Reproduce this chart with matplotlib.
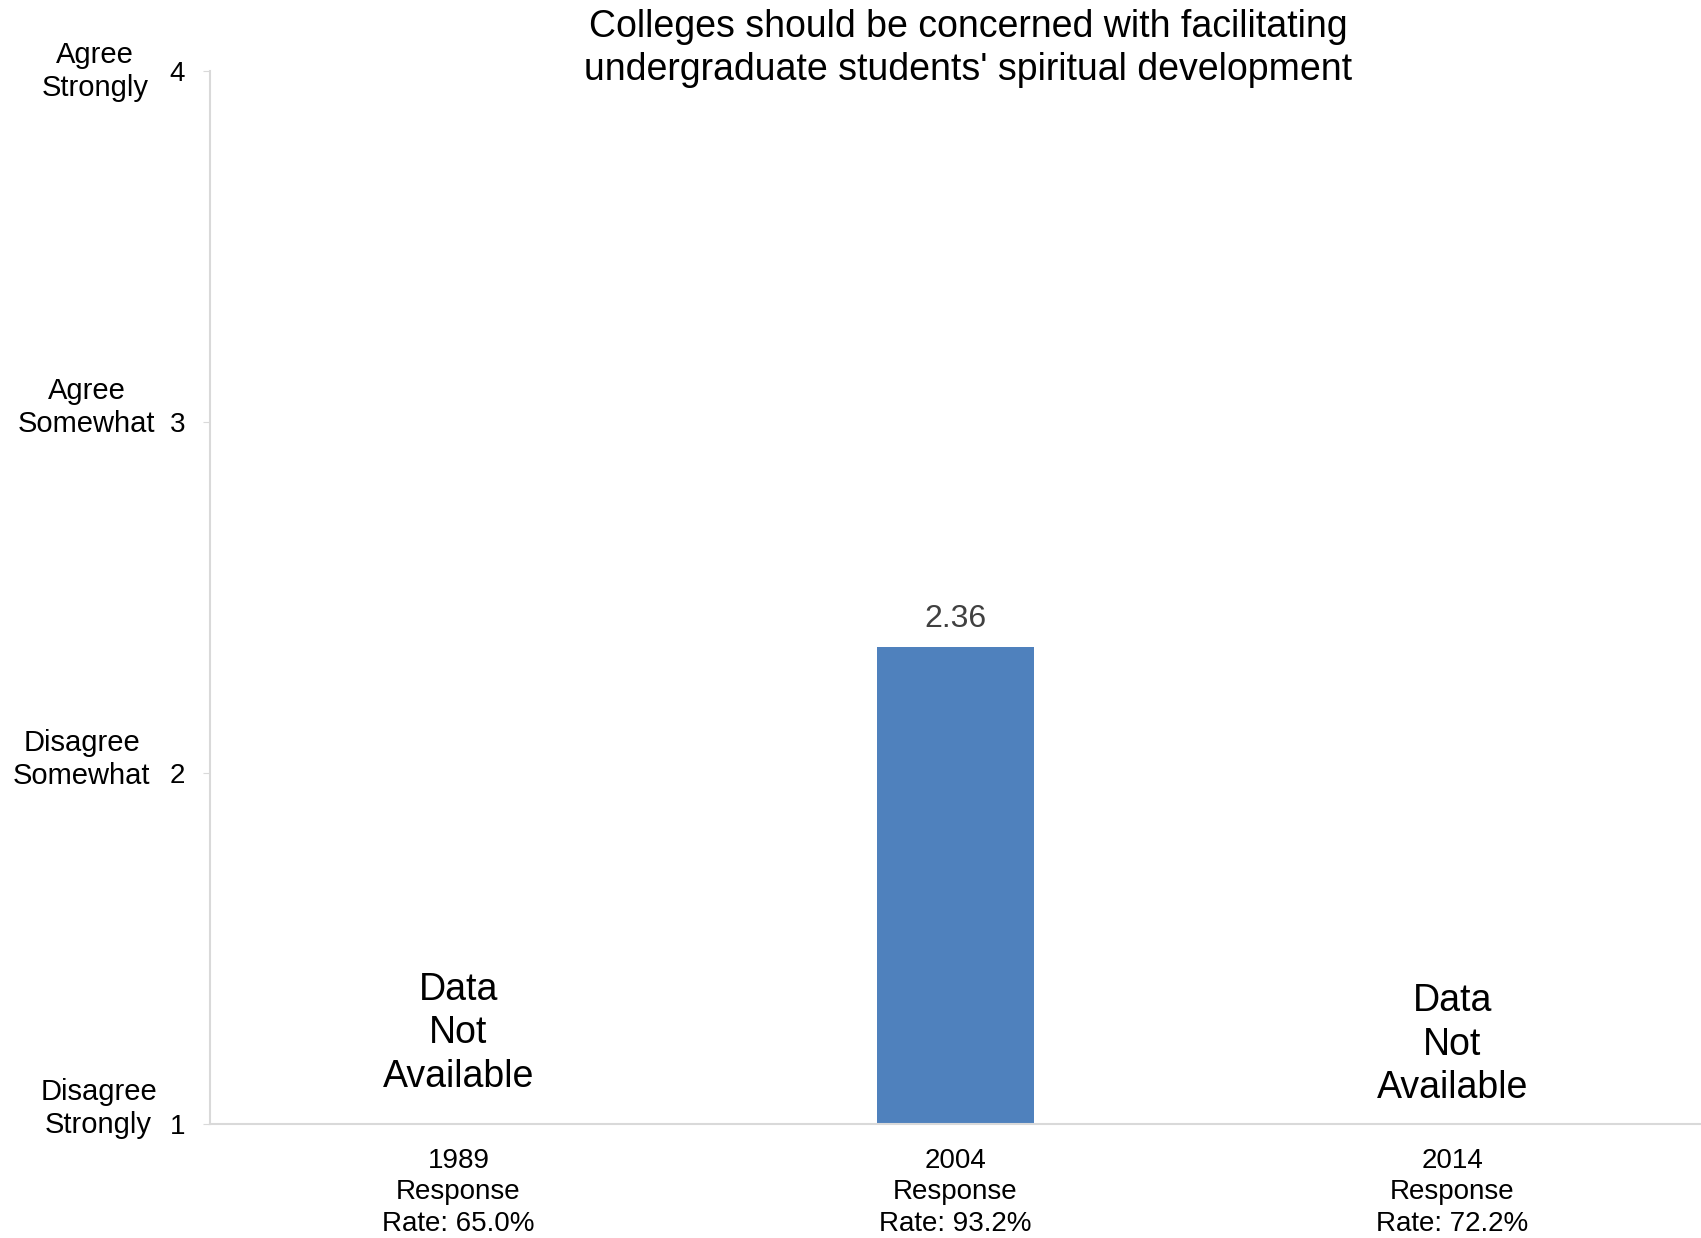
import numpy as np
import matplotlib.pyplot as plt
import matplotlib.transforms as mtransforms

plt.rcParams['font.family'] = ['Liberation Sans', 'DejaVu Sans']

# === DONNÉES ===
annees = ['1989', '2004', '2014']
taux_reponse = ['65.0%', '93.2%', '72.2%']
moyennes = [np.nan, 2.36, np.nan]
titre = "Colleges should be concerned with facilitating\nundergraduate students' spiritual development"
echelle = [1, 2, 3, 4]
libelles_echelle = ['Disagree\nStrongly', 'Disagree\nSomewhat', 'Agree\nSomewhat', 'Agree\nStrongly']

# placement des libellés (x en fraction de figure, y en données)
pos_libelles = [(0.058, 1.044), (0.048, 2.038), (0.051, 3.04), (0.056, 3.998)]
y_na = [1.258, None, 1.226]
gris_axe = '#d9d9d9'
bleu = '#4f81bd'

fig = plt.figure(figsize=(17.01, 12.38), dpi=100)
ax = fig.add_axes([0.1235, 0.092, 0.8765, 0.851])

x = np.arange(len(annees))
ax.bar(x, moyennes, width=0.315, color=bleu, zorder=2)

for xi, v, yna in zip(x, moyennes, y_na):
    if np.isnan(v):
        ax.text(xi, yna, 'Data\nNot\nAvailable', ha='center', va='center',
                multialignment='center', fontsize=27, linespacing=1.26)
    else:
        ax.annotate(f'{v:.2f}', (xi, v), xytext=(0, 20), textcoords='offset points',
                    ha='center', va='center', fontsize=23, color='#404040')

ax.set_xlim(-0.5, len(annees) - 0.5)
ax.set_ylim(1, 4)
ax.set_yticks(echelle)
ax.set_yticklabels([str(e) for e in echelle], fontsize=20)
ax.set_xticks(x)
ax.set_xticklabels([f'{a}\nResponse\nRate: {t}' for a, t in zip(annees, taux_reponse)],
                   fontsize=20, linespacing=1.27)
ax.tick_params(axis='y', length=5, color=gris_axe, pad=13)
ax.tick_params(axis='x', length=0, pad=17)

for s in ['top', 'right']:
    ax.spines[s].set_visible(False)
for s in ['left', 'bottom']:
    ax.spines[s].set_color(gris_axe)
    ax.spines[s].set_linewidth(1.5)

trans = mtransforms.blended_transform_factory(fig.transFigure, ax.transData)
for lib, (px, py) in zip(libelles_echelle, pos_libelles):
    ax.text(px, py, lib, transform=trans, ha='center', va='center',
            multialignment='center', fontsize=21, linespacing=1.25, clip_on=False)

fig.text(0.569, 0.961, titre, ha='center', va='center', fontsize=27, linespacing=1.25)

fig.savefig('out.png', dpi=100)
